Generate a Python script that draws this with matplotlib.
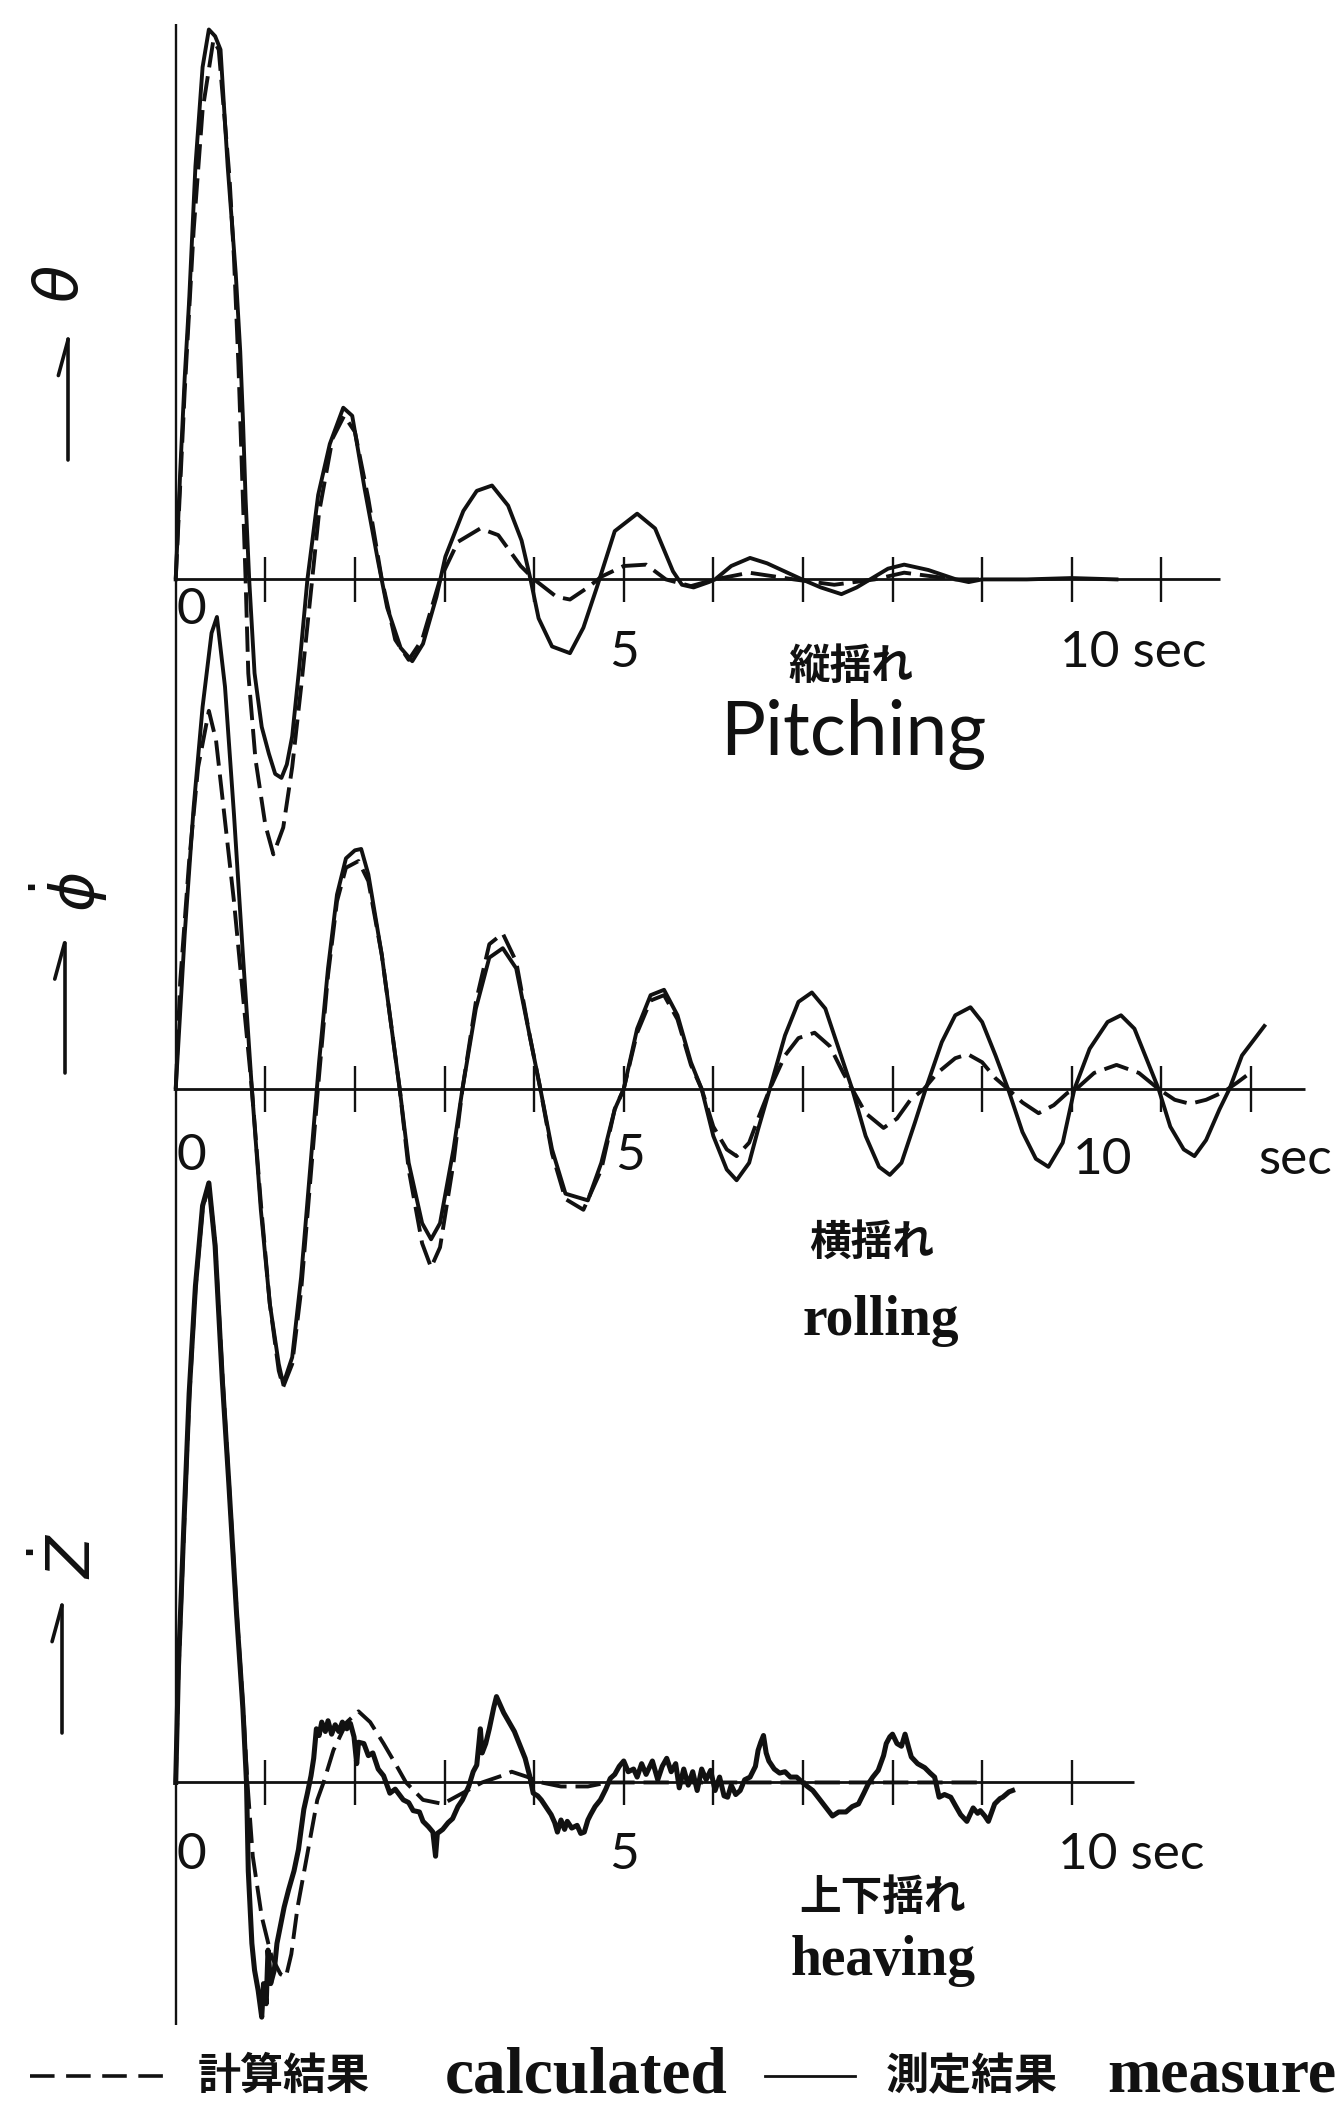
import matplotlib
matplotlib.use("Agg")
import matplotlib.pyplot as plt
import numpy as np

plt.rcParams["font.family"] = ["Lato", "Noto Sans CJK JP", "DejaVu Sans"]
plt.rcParams["mathtext.fontset"] = "dejavusans"

# time in seconds, response in arbitrary units (deviation from each trace's zero line)
pitch_t_meas = [0.0, 0.05, 0.10, 0.15, 0.22, 0.30, 0.37, 0.44, 0.50, 0.58, 0.67, 0.72, 0.75, 0.78,
                0.82, 0.88, 0.96, 1.04, 1.11, 1.18, 1.24, 1.30, 1.38, 1.47, 1.59, 1.72, 1.87, 1.97,
                2.11, 2.26, 2.36, 2.51, 2.64, 2.76, 2.91, 3.01, 3.21, 3.36, 3.53, 3.71, 3.86, 3.96,
                4.05, 4.20, 4.40, 4.55, 4.70, 4.90, 5.15, 5.35, 5.55, 5.65, 5.78, 5.95, 6.02, 6.20,
                6.41, 6.60, 6.99, 7.20, 7.43, 7.60, 7.75, 7.95, 8.13, 8.40, 8.71, 8.85, 9.00, 9.50,
                10.0, 10.5]
pitch_meas = [0, 80, 150, 208, 308, 382, 410, 405, 395, 308, 228, 170, 120, 60,
              0, -70, -110, -130, -145, -148, -138, -117, -65, 0, 63, 101, 128, 122,
              67, 13, -21, -51, -61, -48, -13, 17, 51, 66, 70, 55, 29, 0,
              -29, -50, -55, -36, -6, 36, 49, 38, 6, -4, -6, -2, 0, 10,
              16, 12, 0, -6, -11, -6, 0, 8, 11, 7, 0, -2, 0, 0,
              1, 0]
pitch_t_calc = [0.0, 0.10, 0.20, 0.30, 0.42, 0.48, 0.55, 0.60, 0.65, 0.70, 0.75, 0.78, 0.81, 0.89,
                1.00, 1.09, 1.20, 1.30, 1.40, 1.50, 1.60, 1.75, 1.88, 2.00, 2.15, 2.30, 2.45, 2.60,
                2.75, 2.95, 3.15, 3.40, 3.60, 3.85, 4.00, 4.25, 4.40, 4.60, 4.75, 5.00, 5.25, 5.47,
                5.75, 6.02, 6.40, 6.90, 7.35, 7.80, 8.13, 8.70, 9.00]
pitch_calc = [0, 140, 260, 350, 402, 395, 340, 300, 240, 160, 60, 0, -70, -134,
              -183, -205, -185, -140, -80, -15, 50, 105, 122, 110, 60, 0, -45, -60,
              -45, 0, 28, 38, 33, 10, 0, -13, -15, -6, 2, 10, 11, 0,
              -5, 0, 5, 0, -4, 0, 5, 0, 0]

roll_t_meas = [0.0, 0.10, 0.20, 0.30, 0.40, 0.46, 0.55, 0.65, 0.75, 0.85, 0.95, 1.05, 1.15, 1.20,
               1.30, 1.40, 1.50, 1.60, 1.70, 1.80, 1.90, 2.00, 2.07, 2.15, 2.30, 2.45, 2.50, 2.60,
               2.75, 2.85, 2.95, 3.10, 3.20, 3.35, 3.50, 3.65, 3.80, 3.95, 4.07, 4.20, 4.35, 4.60,
               4.75, 4.90, 5.00, 5.15, 5.30, 5.45, 5.60, 5.75, 5.87, 6.00, 6.15, 6.26, 6.40, 6.50,
               6.63, 6.80, 6.95, 7.10, 7.25, 7.40, 7.55, 7.70, 7.85, 7.97, 8.10, 8.25, 8.37, 8.55,
               8.70, 8.87, 9.00, 9.15, 9.29, 9.45, 9.60, 9.74, 9.90, 10.03, 10.20, 10.40, 10.55,
               10.70, 10.85, 10.97, 11.10, 11.25, 11.37, 11.50, 11.65, 11.76, 11.90, 12.15]
roll_meas = [0, 115, 210, 285, 340, 352, 300, 205, 100, 0, -90, -160, -205, -220,
             -200, -140, -60, 20, 90, 145, 172, 178, 179, 160, 100, 25, 0, -55,
             -100, -112, -100, -45, 0, 60, 98, 105, 90, 40, 0, -45, -78, -83,
             -55, -15, 0, 45, 70, 74, 55, 20, 0, -35, -60, -68, -55, -30,
             0, 40, 65, 72, 60, 30, 0, -35, -58, -64, -55, -25, 0, 35,
             55, 61, 50, 25, 0, -32, -52, -58, -40, 0, 30, 50, 55,
             45, 20, 0, -28, -45, -50, -38, -15, 0, 25, 47]
roll_t_calc = [0.0, 0.05, 0.15, 0.25, 0.37, 0.45, 0.55, 0.65, 0.75, 0.85, 0.95, 1.05, 1.15, 1.20,
               1.30, 1.40, 1.50, 1.60, 1.70, 1.80, 1.90, 2.04, 2.15, 2.30, 2.45, 2.50, 2.60, 2.75,
               2.85, 2.95, 3.10, 3.20, 3.35, 3.50, 3.65, 3.80, 3.95, 4.07, 4.20, 4.35, 4.55, 4.75,
               4.90, 5.00, 5.15, 5.30, 5.45, 5.60, 5.75, 5.87, 6.00, 6.15, 6.26, 6.40, 6.50, 6.63,
               6.80, 6.95, 7.13, 7.30, 7.45, 7.55, 7.70, 7.90, 8.05, 8.20, 8.35, 8.50, 8.70, 8.84,
               9.00, 9.15, 9.29, 9.45, 9.63, 9.80, 9.95, 10.05, 10.25, 10.50, 10.75, 10.97, 11.15,
               11.32, 11.50, 11.70, 11.85, 11.95]
roll_calc = [0, 80, 170, 240, 282, 260, 200, 140, 70, 0, -85, -160, -210, -222,
             -205, -150, -70, 10, 85, 140, 165, 170, 155, 100, 25, 0, -60, -115,
             -133, -118, -55, 0, 65, 108, 116, 95, 40, 0, -48, -82, -90, -60,
             -15, 0, 42, 66, 70, 52, 18, 0, -28, -45, -50, -40, -22, 0,
             25, 38, 42, 32, 12, 0, -18, -29, -22, -8, 0, 12, 23, 26,
             20, 8, 0, -10, -18, -12, -3, 0, 12, 18, 12, 0, -8,
             -11, -8, -2, 5, 10]

heave_t_meas = [0.0, 0.03, 0.09, 0.15, 0.22, 0.30, 0.37, 0.44, 0.52, 0.59, 0.68, 0.75, 0.79, 0.81,
                0.85, 0.88, 0.92, 0.96, 0.98, 1.01, 1.03, 1.06, 1.10, 1.13, 1.16, 1.21, 1.26, 1.32,
                1.37, 1.43, 1.47, 1.51, 1.54, 1.57, 1.60, 1.63, 1.67, 1.70, 1.74, 1.78, 1.82, 1.86,
                1.91, 1.95, 1.99, 2.02, 2.04, 2.10, 2.15, 2.20, 2.26, 2.32, 2.39, 2.45, 2.54, 2.60,
                2.65, 2.72, 2.76, 2.82, 2.87, 2.90, 2.92, 2.98, 3.04, 3.09, 3.15, 3.20, 3.27, 3.32,
                3.36, 3.40, 3.42, 3.46, 3.50, 3.55, 3.58, 3.62, 3.66, 3.72, 3.78, 3.84, 3.90, 3.95,
                3.99, 4.04, 4.08, 4.13, 4.19, 4.23, 4.26, 4.30, 4.34, 4.37, 4.42, 4.48, 4.52, 4.56,
                4.60, 4.63, 4.68, 4.74, 4.80, 4.85, 4.90, 4.95, 5.00, 5.05, 5.11, 5.15, 5.20, 5.25,
                5.32, 5.38, 5.43, 5.48, 5.53, 5.58, 5.62, 5.67, 5.72, 5.77, 5.82, 5.87, 5.92, 5.97,
                6.02, 6.07, 6.12, 6.16, 6.20, 6.25, 6.30, 6.35, 6.41, 6.47, 6.50, 6.53, 6.56, 6.59,
                6.62, 6.68, 6.74, 6.80, 6.86, 6.93, 6.98, 7.05, 7.11, 7.18, 7.26, 7.33, 7.40, 7.48,
                7.55, 7.62, 7.68, 7.73, 7.78, 7.84, 7.90, 7.93, 7.97, 8.00, 8.05, 8.10, 8.14, 8.18,
                8.21, 8.28, 8.36, 8.42, 8.47, 8.52, 8.58, 8.65, 8.70, 8.76, 8.83, 8.90, 8.95, 8.98,
                9.03, 9.07, 9.14, 9.20, 9.23, 9.30, 9.34]
heave_meas = [0, 85, 190, 290, 370, 430, 447, 400, 300, 226, 125, 55, 0, -66,
              -120, -140, -155, -175, -150, -165, -125, -150, -140, -120, -110, -93, -80, -66,
              -50, -20, -8, 5, 18, 40, 35, 45, 38, 46, 36, 43, 38, 45,
              40, 44, 34, 14, 30, 29, 20, 22, 10, 5, -8, -5, -13, -15,
              -21, -22, -29, -33, -37, -55, -38, -35, -30, -27, -18, -13, -3, 8,
              13, 40, 22, 29, 40, 56, 64, 58, 52, 45, 38, 28, 18, 5,
              -8, -10, -13, -18, -24, -30, -37, -28, -35, -29, -34, -32, -38, -37,
              -28, -24, -18, -13, -5, 3, 6, 12, 16, 8, 10, 4, 14, 6,
              16, 2, 12, 18, 8, 14, -4, 10, -2, 8, -6, 10, 2, 9,
              -6, 4, -10, -11, -2, -9, -6, 2, 4, 12, 24, 30, 35, 22,
              16, 10, 7, 8, 4, 4, 1, -3, -6, -12, -19, -25, -22, -22,
              -18, -16, -8, -1, 4, 9, 20, 29, 34, 36, 29, 27, 36, 26,
              19, 14, 11, 7, 4, -11, -9, -11, -17, -24, -29, -19, -23, -21,
              -25, -29, -16, -12, -11, -7, -6]
heave_t_calc = [0.0, 0.03, 0.09, 0.15, 0.22, 0.30, 0.37, 0.44, 0.52, 0.59, 0.68, 0.75, 0.80, 0.86,
                0.96, 1.07, 1.17, 1.23, 1.29, 1.36, 1.47, 1.58, 1.65, 1.76, 1.91, 2.04, 2.17, 2.32,
                2.46, 2.57, 2.76, 2.98, 3.20, 3.42, 3.64, 3.75, 3.93, 4.08, 4.30, 4.60, 4.82, 5.50,
                6.50, 7.50, 8.50, 9.00]
heave_calc = [0, 80, 185, 285, 368, 428, 445, 402, 305, 228, 128, 58, 0, -55,
              -100, -130, -143, -145, -128, -93, -53, -13, 0, 24, 45, 53, 45, 29,
              13, 0, -13, -16, -8, 0, 5, 8, 4, 0, -3, -3, 0, 0,
              0, 0, 0, 0]

# zero line of each trace on the common vertical scale, and how far each time axis runs
baselines = {"pitch": 1136, "roll": 756, "heave": 239}
axis_end = {"pitch": 11.66, "roll": 12.6, "heave": 10.69}
tick_secs = {"pitch": range(1, 12), "roll": range(1, 13), "heave": range(1, 11)}

fig = plt.figure(figsize=(13.44, 21.03), dpi=100)
ax = fig.add_axes((0, 0, 1, 1))
ax.set_xlim(-131 / 66.8, 871 / 66.8)
ax.set_ylim(0, 1568)
ax.axis("off")

ink = "#111111"
dash = (0, (6.5, 2.3))
lw = 2.8

ax.vlines(0, 58, 1550, color=ink, lw=1.7)
for key in baselines:
    b = baselines[key]
    ax.hlines(b, 0, axis_end[key], color=ink, lw=2.0)
    ax.vlines(list(tick_secs[key]), b - 17, b + 17, color=ink, lw=1.7)

series = [
    ("pitch", pitch_t_meas, pitch_meas, pitch_t_calc, pitch_calc),
    ("roll", roll_t_meas, roll_meas, roll_t_calc, roll_calc),
    ("heave", heave_t_meas, heave_meas, heave_t_calc, heave_calc),
]
for key, tm, ym, tc, yc in series:
    b = baselines[key]
    ax.plot(tc, np.array(yc) + b, color=ink, lw=lw, ls=dash, solid_capstyle="butt")
    ax.plot(tm, np.array(ym) + b, color=ink, lw=lw * (1.3 if key == "heave" else 1.0),
            solid_joinstyle="round")

# axis annotations
num = dict(fontsize=37, color=ink, ha="center", va="center", family=["Lato", "DejaVu Sans"])
jp = dict(fontsize=30, color=ink, ha="center", va="center", fontweight="bold",
          family=["Noto Sans CJK JP", "DejaVu Sans"])
serif = dict(color=ink, ha="center", va="center", family=["Liberation Serif", "DejaVu Serif"],
             fontweight="bold")

b = baselines["pitch"]
ax.text(0.18, b - 23, "0", **num)
ax.text(5.0, b - 55, "5", **num)
ax.text(10.69, b - 55, "10 sec", **num)
ax.text(7.54, b - 65, "縦揺れ", **jp)
ax.text(7.56, b - 116, "Pitching", fontsize=54, color=ink, ha="center", va="center",
        family=["Lato", "DejaVu Sans"])

b = baselines["roll"]
ax.text(0.18, b - 50, "0", **num)
ax.text(5.07, b - 50, "5", **num)
ax.text(10.34, b - 53, "10", **num)
ax.text(12.49, b - 53, "sec", **num)
ax.text(7.77, b - 115, "横揺れ", **jp)
ax.text(7.87, b - 173, "rolling", fontsize=40, **serif)

b = baselines["heave"]
ax.text(0.18, b - 54, "0", **num)
ax.text(5.0, b - 54, "5", **num)
ax.text(10.66, b - 54, "10 sec", **num)
ax.text(7.89, b - 86, "上下揺れ", **jp)
ax.text(7.89, b - 133, "heaving", fontsize=40, **serif)

# response symbols on the left, written sideways with a half-arrow
sym = dict(fontsize=44, color=ink, ha="center", va="center", rotation=90)
ax.text(-1.29, 1356, r"$\theta$", **sym)
ax.text(-1.20, 903, r"$\dot{\phi}$", **sym)
ax.text(-1.20, 408, r"$\dot{Z}$", **sym)
for x0, y_top, y_bot in [(-1.20, 1315, 1225), (-1.24, 865, 768), (-1.27, 371, 276)]:
    ax.plot([x0, x0], [y_bot, y_top], color=ink, lw=2.6, solid_capstyle="round")
    ax.plot([x0, x0 - 0.11], [y_top, y_top - 27], color=ink, lw=2.6, solid_capstyle="round")

# key at the bottom
ky = 20
ax.plot([-1.63, -0.04], [ky, ky], color=ink, lw=2.6, ls=(0, (6.8, 3.2)))
ax.text(1.21, ky, "計算結果", fontsize=31, color=ink, ha="center", va="center", fontweight="bold",
        family=["Noto Sans CJK JP", "DejaVu Sans"])
ax.text(4.58, ky, "calculated", fontsize=47, **serif)
ax.plot([6.58, 7.58], [ky, ky], color=ink, lw=2.0)
ax.text(8.89, ky, "測定結果", fontsize=31, color=ink, ha="center", va="center", fontweight="bold",
        family=["Noto Sans CJK JP", "DejaVu Sans"])
ax.text(12.95, ky, "measure", fontsize=46, color=ink, ha="right", va="center",
        family=["Liberation Serif", "DejaVu Serif"], fontweight="bold")

fig.savefig("out.png", dpi=100, facecolor="white")
